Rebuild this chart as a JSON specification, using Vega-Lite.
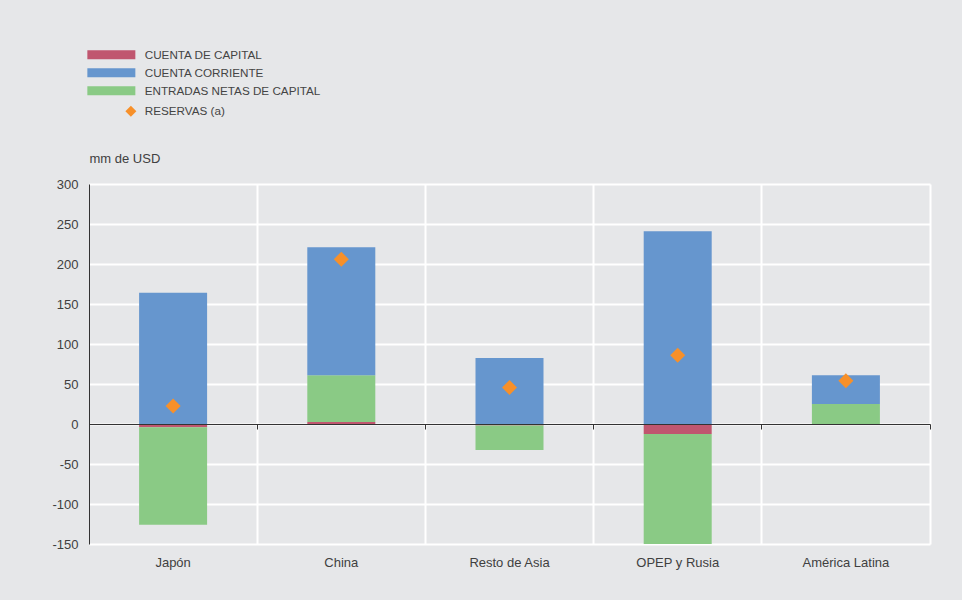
{
  "$schema": "https://vega.github.io/schema/vega-lite/v6.json",
  "width": 841,
  "height": 360,
  "autosize": {"type": "none"},
  "padding": {"left": 89, "top": 184, "right": 32, "bottom": 56},
  "background": "#e6e7e9",
  "config": {
    "view": {"stroke": null},
    "font": "Liberation Sans",
    "axis": {"labelFont": "Liberation Sans", "titleFont": "Liberation Sans", "labelOverlap": false},
    "axisY": {"labelOverlap": false},
    "legend": {"labelFont": "Liberation Sans"}
  },
  "datasets": {
    "flujos": [
      {"region": "Japón", "serie": "CUENTA DE CAPITAL", "valor": -4, "orden": 1},
      {"region": "Japón", "serie": "ENTRADAS NETAS DE CAPITAL", "valor": -122, "orden": 2},
      {"region": "Japón", "serie": "CUENTA CORRIENTE", "valor": 164, "orden": 3},
      {"region": "China", "serie": "CUENTA DE CAPITAL", "valor": 2.5, "orden": 1},
      {"region": "China", "serie": "ENTRADAS NETAS DE CAPITAL", "valor": 58.5, "orden": 2},
      {"region": "China", "serie": "CUENTA CORRIENTE", "valor": 160, "orden": 3},
      {"region": "Resto de Asia", "serie": "CUENTA DE CAPITAL", "valor": -2, "orden": 1},
      {"region": "Resto de Asia", "serie": "ENTRADAS NETAS DE CAPITAL", "valor": -30.5, "orden": 2},
      {"region": "Resto de Asia", "serie": "CUENTA CORRIENTE", "valor": 82.5, "orden": 3},
      {"region": "OPEP y Rusia", "serie": "CUENTA DE CAPITAL", "valor": -12.5, "orden": 1},
      {"region": "OPEP y Rusia", "serie": "ENTRADAS NETAS DE CAPITAL", "valor": -137.5, "orden": 2},
      {"region": "OPEP y Rusia", "serie": "CUENTA CORRIENTE", "valor": 241, "orden": 3},
      {"region": "América Latina", "serie": "CUENTA DE CAPITAL", "valor": 0, "orden": 1},
      {"region": "América Latina", "serie": "ENTRADAS NETAS DE CAPITAL", "valor": 25, "orden": 2},
      {"region": "América Latina", "serie": "CUENTA CORRIENTE", "valor": 36, "orden": 3}
    ],
    "reservas": [
      {"region": "Japón", "valor": 22.5},
      {"region": "China", "valor": 206},
      {"region": "Resto de Asia", "valor": 45.5},
      {"region": "OPEP y Rusia", "valor": 86},
      {"region": "América Latina", "valor": 54}
    ]
  },
  "layer": [
    {
      "data": {"name": "flujos"},
      "mark": {"type": "bar", "width": 68},
      "encoding": {
        "x": {
          "field": "region",
          "type": "nominal",
          "sort": ["Japón", "China", "Resto de Asia", "OPEP y Rusia", "América Latina"],
          "scale": {"paddingInner": 0, "paddingOuter": 0},
          "axis": {
            "title": null,
            "orient": "bottom",
            "bandPosition": 1,
            "grid": true,
            "gridColor": "#ffffff",
            "gridWidth": 2,
            "gridOpacity": 1,
            "ticks": false,
            "domain": false,
            "labelAngle": 0,
            "labelPadding": 12,
            "labelFontSize": 13,
            "labelColor": "#404040"
          }
        },
        "y": {
          "field": "valor",
          "type": "quantitative",
          "stack": "zero",
          "scale": {"domain": [-150, 300], "nice": false, "zero": false},
          "axis": {
            "tickCount": 10,
            "labelExpr": "datum.value < 0 ? '-' + abs(datum.value) : '' + datum.value",
            "labelOverlap": false,
            "labelFlush": false,
            "grid": true,
            "gridColor": "#ffffff",
            "gridWidth": 2,
            "gridOpacity": 1,
            "domain": true,
            "domainColor": "#333333",
            "domainWidth": 1,
            "ticks": false,
            "labelPadding": 11,
            "labelFontSize": 13,
            "labelColor": "#404040",
            "title": "mm de USD",
            "titleAngle": 0,
            "titleAlign": "left",
            "titleBaseline": "middle",
            "titleX": 0,
            "titleY": -26,
            "titleFontSize": 13,
            "titleFontWeight": "normal",
            "titleColor": "#404040"
          }
        },
        "color": {
          "field": "serie",
          "type": "nominal",
          "scale": {
            "domain": ["CUENTA DE CAPITAL", "CUENTA CORRIENTE", "ENTRADAS NETAS DE CAPITAL"],
            "range": ["#c0566f", "#6696ce", "#8aca85"]
          },
          "legend": {
            "title": null,
            "orient": "none",
            "legendX": 16.5,
            "legendY": -135,
            "symbolType": "M-5.333,-1H5.333V1H-5.333Z",
            "symbolSize": 81,
            "symbolStrokeWidth": 0,
            "symbolOpacity": 1,
            "labelOffset": 27.5,
            "labelFontSize": 11.7,
            "labelLimit": 400,
            "labelColor": "#444444",
            "rowPadding": 5
          }
        },
        "order": {"field": "orden", "type": "quantitative"}
      }
    },
    {
      "data": {"name": "reservas"},
      "mark": {"type": "point", "shape": "diamond", "filled": true, "size": 225, "color": "#f7902a", "opacity": 1},
      "encoding": {
        "x": {
          "field": "region",
          "type": "nominal",
          "sort": ["Japón", "China", "Resto de Asia", "OPEP y Rusia", "América Latina"],
          "axis": {
            "title": null,
            "orient": "bottom",
            "offset": -120,
            "bandPosition": 1,
            "labels": false,
            "grid": false,
            "domain": true,
            "domainColor": "#333333",
            "domainWidth": 1,
            "ticks": true,
            "tickColor": "#333333",
            "tickSize": 5,
            "zindex": 1
          }
        },
        "y": {"field": "valor", "type": "quantitative"},
        "shape": {
          "datum": "RESERVAS (a)",
          "type": "nominal",
          "scale": {"range": ["diamond"]},
          "legend": {
            "title": null,
            "orient": "none",
            "legendX": 36,
            "legendY": -78.5,
            "symbolSize": 121,
            "symbolFillColor": "#f7902a",
            "symbolStrokeWidth": 0,
            "symbolOpacity": 1,
            "labelOffset": 8,
            "labelFontSize": 11.7,
            "labelColor": "#444444"
          }
        }
      }
    }
  ],
  "resolve": {"axis": {"x": "independent"}}
}
